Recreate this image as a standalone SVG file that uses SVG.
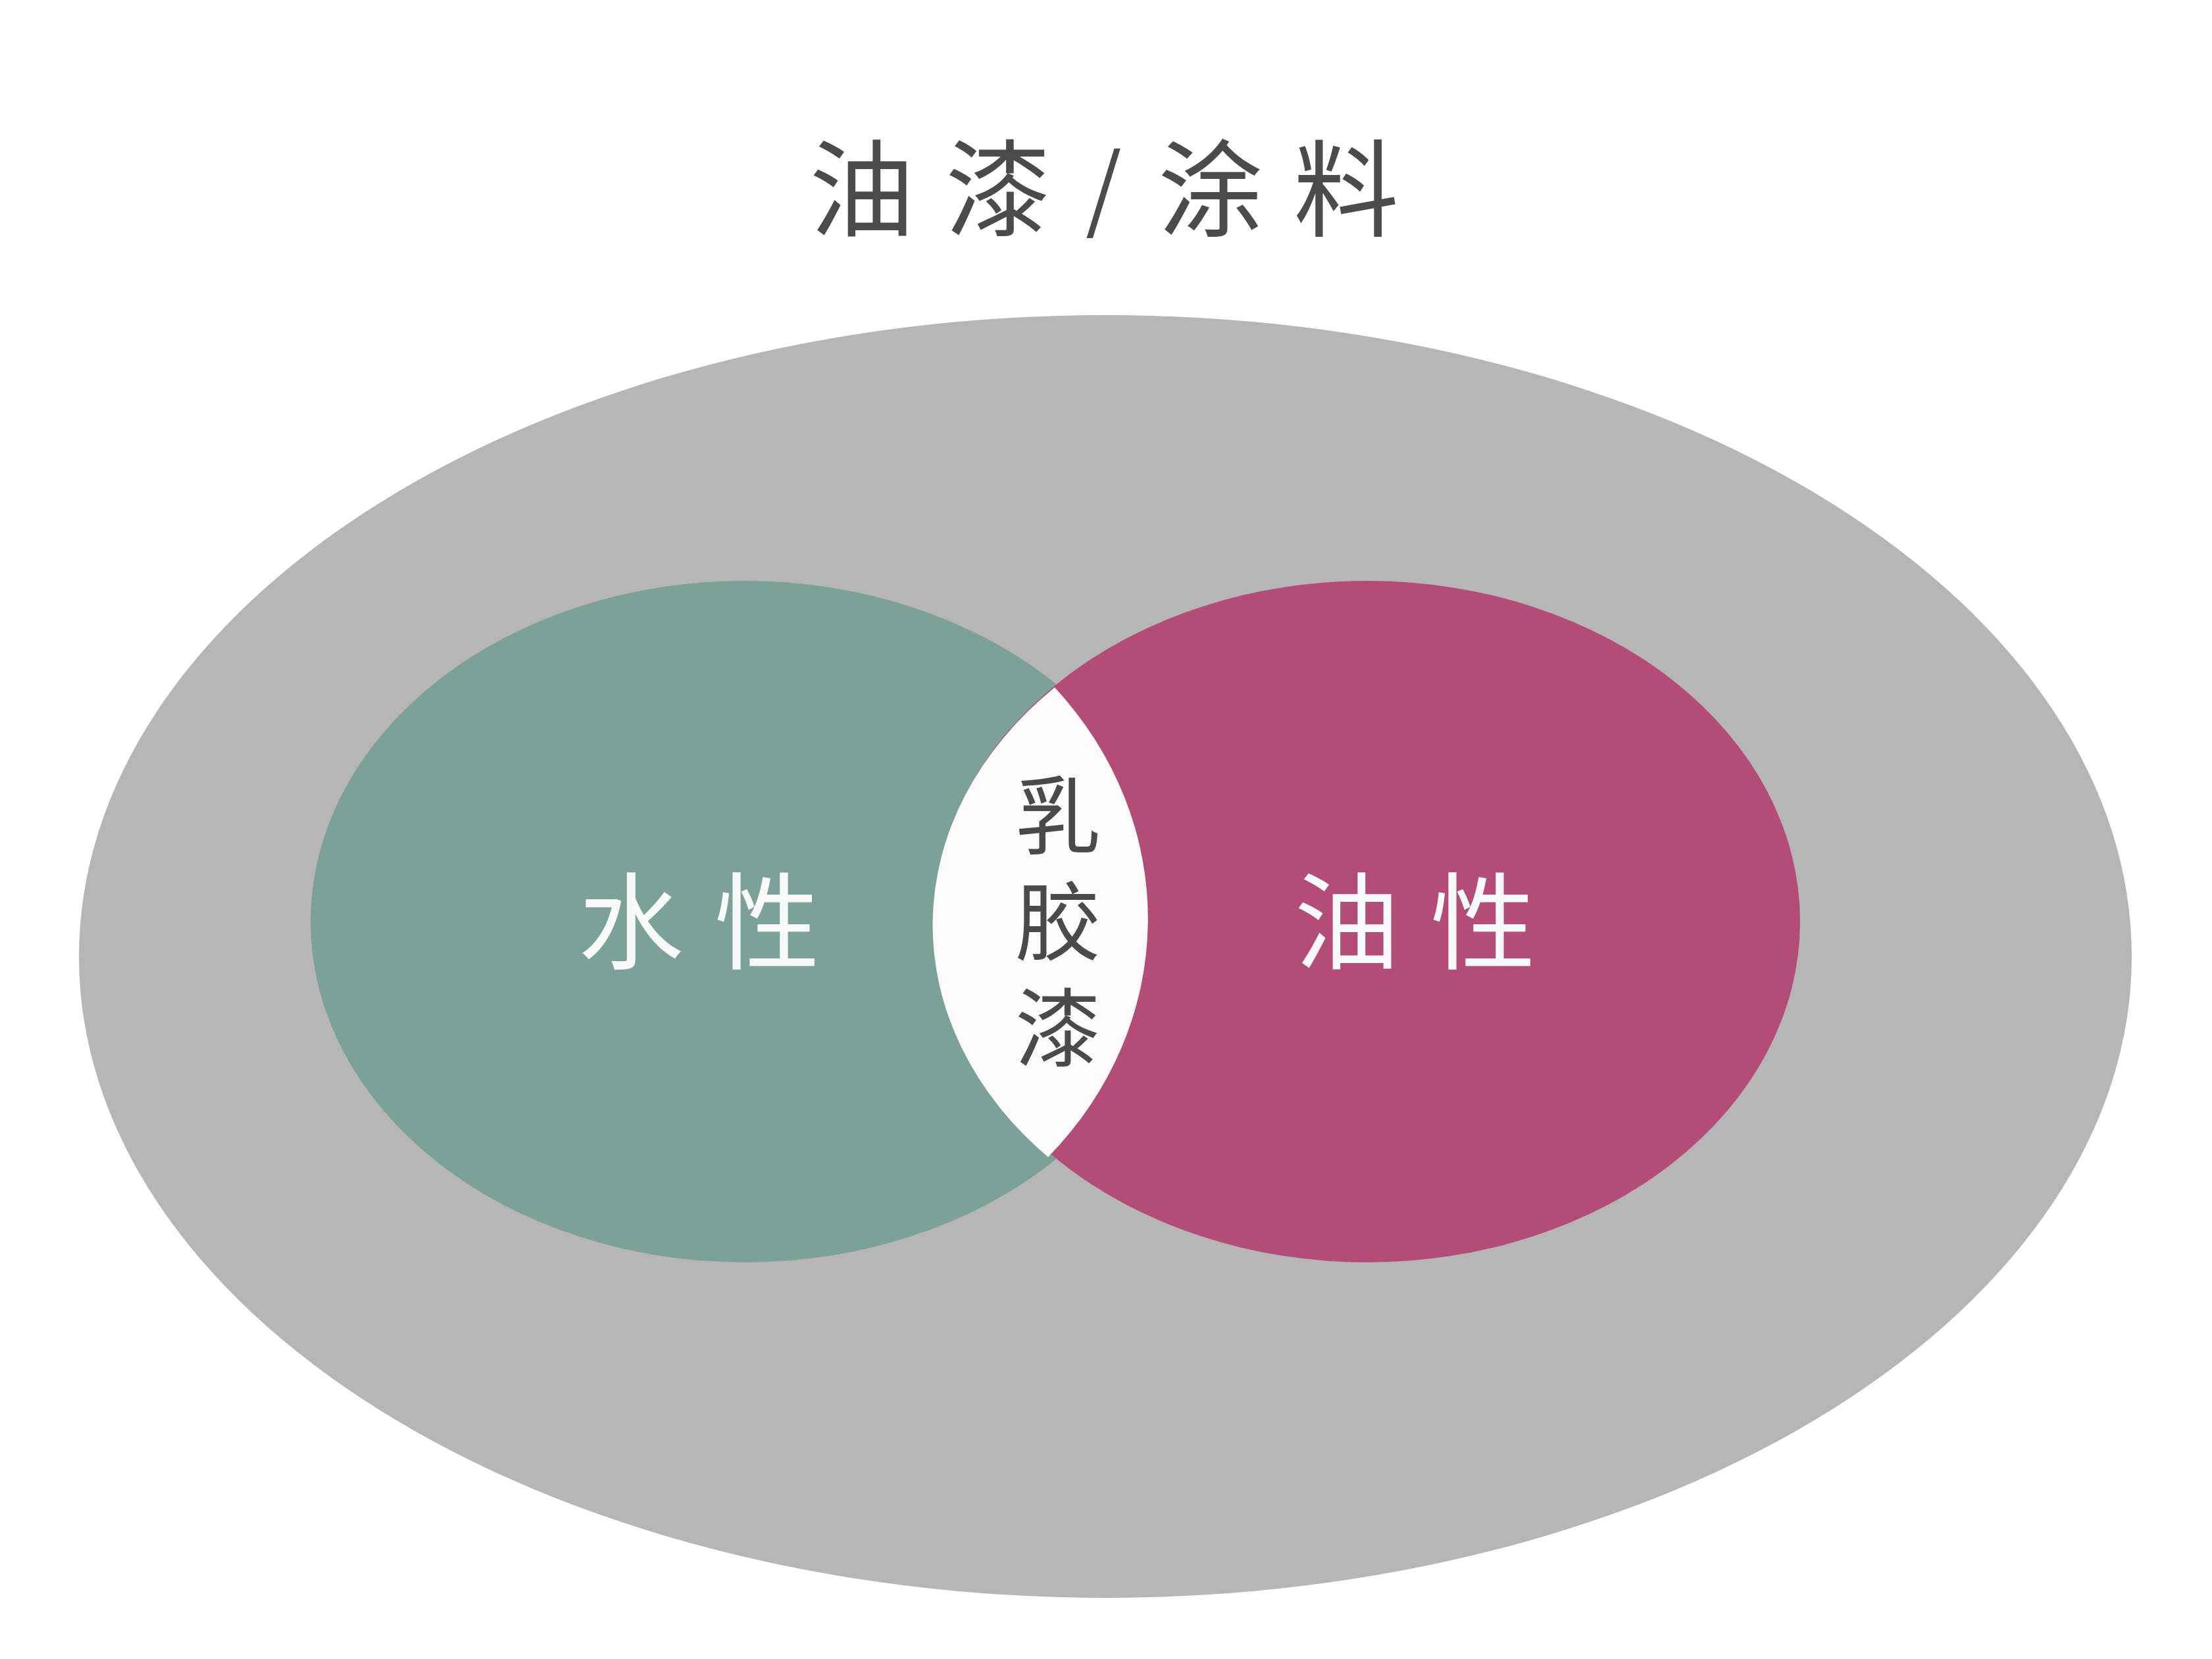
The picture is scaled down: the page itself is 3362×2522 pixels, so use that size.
<svg xmlns="http://www.w3.org/2000/svg" width="3362" height="2522" viewBox="0 0 3362 2522">
<style>
.cjk{font-family:"Noto Sans CJK SC","Noto Sans CJK TC",sans-serif;}
.title{font-size:160px;fill:#4b4b4b;}
.lbl{font-size:160px;fill:#f8f9fb;}
.mid{font-size:130px;fill:#4a4a4a;text-anchor:middle;}
</style>
<rect x="0" y="0" width="3362" height="2522" fill="#ffffff"/>
<g id="title">
<text class="cjk title" y="347"><tspan x="1230 1437">油漆</tspan><tspan x="1650" y="337" font-size="140">/</tspan><tspan x="1760 1966" y="347">涂料</tspan></text>
</g>
<g id="paint">
<ellipse cx="1680" cy="1454" rx="1560" ry="975" fill="#b6b6b6"/>
</g>
<g id="water">
<ellipse cx="1132" cy="1401" rx="660" ry="518" fill="#7ba198"/>
<text class="cjk lbl" x="879 1086" y="1461">水性</text>
</g>
<g id="oil">
<ellipse cx="2078" cy="1401" rx="658" ry="518" fill="#b34d78"/>
<text class="cjk lbl" x="1967 2174" y="1461">油性</text>
</g>
<g id="latex">
<path d="M1603 1045 A655 518 0 0 0 1593 1759 A613 550 0 0 0 1603 1045 Z" fill="#fcfafb"/>
<text class="cjk mid"><tspan x="1608" y="1288">乳</tspan><tspan x="1608" y="1449">胶</tspan><tspan x="1608" y="1611">漆</tspan></text>
</g>
<g id="connectors"/>
</svg>
